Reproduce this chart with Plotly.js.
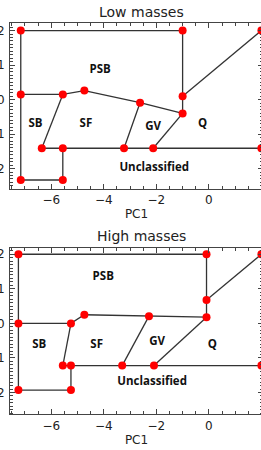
<!DOCTYPE html>
<html>
<head>
<meta charset="utf-8">
<script src="https://cdn.plot.ly/plotly-3.0.1.min.js"></script>
<style>
html,body{margin:0;padding:0;overflow:hidden;background:#fff;width:261px;height:450px;}
#chart{width:263px;height:450px;}
</style>
</head>
<body>
<div id="chart"></div>
<script>
// ---------- DATA ----------
var panelTitles = ["Low masses", "High masses"];
var xTitle = "PC1";
var regionNames = ["PSB", "SB", "SF", "GV", "Q", "Unclassified"];

// Low masses: boundary polylines (null separates segments)
var lowLineX = [-7.16, -1.0, -1.0, -1.0, null,
                -1.0, 2.0, null,
                -7.16, -7.16, -7.16, -5.56, -5.56, null,
                -7.16, -5.56, -4.74, -2.62, -1.0, null,
                -5.56, -6.36, null,
                -2.62, -3.23, null,
                -1.0, -2.12, null,
                -6.36, 2.0];
var lowLineY = [2.0, 2.0, 0.10, -0.40, null,
                0.10, 2.0, null,
                2.0, 0.15, -2.33, -2.33, -1.41, null,
                0.15, 0.15, 0.26, -0.09, -0.40, null,
                0.15, -1.41, null,
                -0.09, -1.41, null,
                -0.40, -1.41, null,
                -1.41, -1.41];
// Low masses: vertices
var lowNodeX = [-7.16, -1.0, 2.0, -7.16, -5.56, -4.74, -2.62, -1.0, -1.0, -6.36, -5.56, -3.23, -2.12, 2.0, -7.16, -5.56];
var lowNodeY = [2.0, 2.0, 2.0, 0.15, 0.15, 0.26, -0.09, 0.10, -0.40, -1.41, -1.41, -1.41, -1.41, -1.41, -2.33, -2.33];
// Low masses: region label positions
var lowLabelX = [-4.14, -6.6, -4.68, -2.12, -0.24, -2.08];
var lowLabelY = [0.86, -0.71, -0.71, -0.79, -0.71, -1.98];

// High masses: boundary polylines
var highLineX = [-7.25, -0.09, -0.09, -0.09, null,
                 -0.09, 2.0, null,
                 -7.25, -7.25, -7.25, -5.25, -5.25, null,
                 -7.25, -5.25, -4.74, -2.28, -0.09, null,
                 -5.25, -5.56, null,
                 -2.28, -3.30, null,
                 -0.09, -2.09, null,
                 -5.56, 2.0];
var highLineY = [2.0, 2.0, 0.68, 0.18, null,
                 0.68, 2.0, null,
                 2.0, 0.0, -1.93, -1.93, -1.22, null,
                 0.0, 0.0, 0.25, 0.21, 0.18, null,
                 0.0, -1.22, null,
                 0.21, -1.22, null,
                 0.18, -1.22, null,
                 -1.22, -1.22];
var highNodeX = [-7.25, -0.09, 2.0, -0.09, -0.09, -7.25, -5.25, -4.74, -2.28, -5.56, -5.25, -3.30, -2.09, 2.0, -7.25, -5.25];
var highNodeY = [2.0, 2.0, 2.0, 0.68, 0.18, 0.0, 0.0, 0.25, 0.21, -1.22, -1.22, -1.22, -1.22, -1.22, -1.93, -1.93];
var highLabelX = [-4.02, -6.46, -4.27, -1.97, 0.13, -2.16];
var highLabelY = [1.33, -0.64, -0.62, -0.55, -0.64, -1.70];

var xTickVals = [-6, -4, -2, 0, 2];
var xTickText = ["\u22126", "\u22124", "\u22122", "0", "2"];
var yTickVals = [-2, -1, 0, 1, 2];
var yTickText = ["\u22122", "\u22121", "0", "1", "2"];

// ---------- STYLE ----------
var lineColor = "#333333";
var axisColor = "#444444";
var tickFont = {family: "DejaVu Sans", size: 12, color: "#222"};

function lineTrace(x, y, xa, ya) {
  return {x: x, y: y, xaxis: xa, yaxis: ya, mode: "lines", type: "scatter",
          line: {color: lineColor, width: 1.3}, connectgaps: false, hoverinfo: "skip", cliponaxis: false};
}
function nodeTrace(x, y, xa, ya) {
  return {x: x, y: y, xaxis: xa, yaxis: ya, mode: "markers", type: "scatter",
          marker: {color: "#ff0000", size: 8}, hoverinfo: "skip", cliponaxis: false};
}
function labelTrace(x, y, xa, ya) {
  return {x: x, y: y, xaxis: xa, yaxis: ya, mode: "text", type: "scatter", text: regionNames,
          textfont: {family: "Open Sans", size: 11.5, color: "#111", weight: 700},
          textposition: "middle center", hoverinfo: "skip"};
}

var traces = [
  lineTrace(lowLineX, lowLineY, "x", "y"),
  nodeTrace(lowNodeX, lowNodeY, "x", "y"),
  labelTrace(lowLabelX, lowLabelY, "x", "y"),
  lineTrace(highLineX, highLineY, "x2", "y2"),
  nodeTrace(highNodeX, highNodeY, "x2", "y2"),
  labelTrace(highLabelX, highLabelY, "x2", "y2")
];

function xAxis(anchor) {
  return {range: [-7.57, 2.06], anchor: anchor, domain: [0, 1],
          tickvals: xTickVals, ticktext: xTickText, ticks: "inside", ticklen: 5, tickwidth: 1,
          tickcolor: axisColor, showline: true, linecolor: axisColor, linewidth: 1, mirror: "ticks",
          showgrid: false, zeroline: false, tickfont: tickFont, ticklabelstandoff: 0,
          minor: {dtick: 0.5, tick0: 0, ticks: "inside", ticklen: 3, tickcolor: axisColor, showgrid: false},
          title: {text: xTitle, font: {family: "DejaVu Sans", size: 12, color: "#222"}, standoff: 0}};
}
function yAxis(anchor, range, domain) {
  return {range: range, anchor: anchor, domain: domain,
          tickvals: yTickVals, ticktext: yTickText, ticks: "inside", ticklen: 5, tickwidth: 1,
          tickcolor: axisColor, showline: true, linecolor: axisColor, linewidth: 1, mirror: "ticks",
          showgrid: false, zeroline: false, tickfont: tickFont, ticklabelstandoff: 2,
          minor: {dtick: 0.1, tick0: 0, ticks: "inside", ticklen: 3, tickcolor: axisColor, showgrid: false}};
}

var layout = {
  width: 263, height: 450,
  margin: {l: 10, r: 0, t: 0, b: 0},
  paper_bgcolor: "#fff", plot_bgcolor: "#fff",
  showlegend: false,
  xaxis: xAxis("y"),
  yaxis: yAxis("x", [-2.59, 2.22], [0.58, 0.949]),
  xaxis2: xAxis("y2"),
  yaxis2: yAxis("x2", [-2.63, 2.19], [0.0793, 0.4496]),
  annotations: [
    {text: panelTitles[0], xref: "paper", yref: "paper", x: 0.52, y: 1 - 12/450, yanchor: "middle",
     showarrow: false, font: {family: "DejaVu Sans", size: 14, color: "#222"}},
    {text: panelTitles[1], xref: "paper", yref: "paper", x: 0.52, y: 1 - 236/450, yanchor: "middle",
     showarrow: false, font: {family: "DejaVu Sans", size: 14, color: "#222"}}
  ]
};

Plotly.newPlot("chart", traces, layout, {displayModeBar: false, staticPlot: true});
</script>
</body>
</html>
